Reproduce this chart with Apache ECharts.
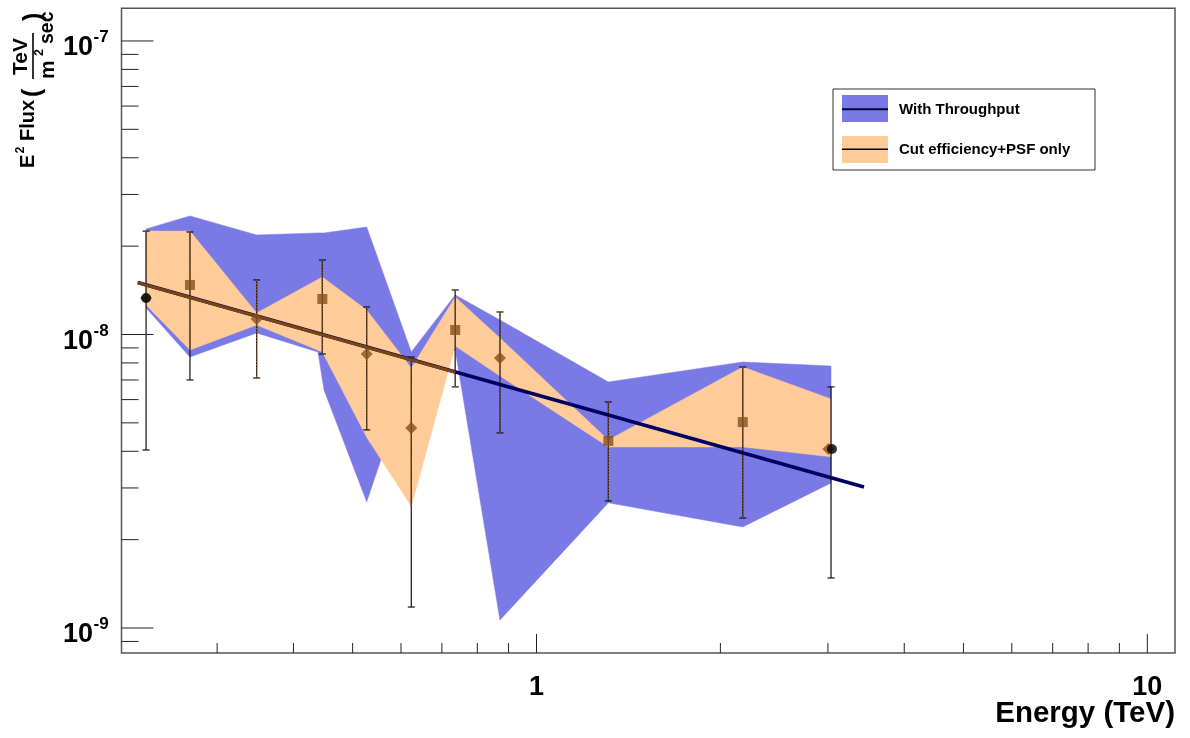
<!DOCTYPE html>
<html><head><meta charset="utf-8">
<script src="https://cdn.jsdelivr.net/npm/echarts@6/dist/echarts.min.js"></script>
<style>html,body{margin:0;padding:0;background:#fff}#c{width:1190px;height:738px}</style>
</head><body><div id="c"></div>
<script>
// ---------------- data ----------------
const pointEnergy = [0.2295, 0.2708, 0.3482, 0.4460, 0.5272, 0.6237, 0.7361, 0.8713, 1.311, 2.176, 3.035];
const cutPsfEnergy = [0.2295, 0.2708, 0.3482, 0.4460, 0.5272, 0.6237, 0.7361, 0.8713, 1.311, 2.176, 3.005];
const cutPsfFlux = [1.331e-8, 1.475e-8, 1.129e-8, 1.321e-8, 8.58e-9, 4.80e-9, 1.036e-8, 8.32e-9, 4.34e-9, 5.03e-9, 4.07e-9];
const cutPsfMarker = ['diamond', 'rect', 'diamond', 'rect', 'diamond', 'diamond', 'rect', 'diamond', 'rect', 'rect', 'diamond'];
const errHigh = [2.25e-8, 2.235e-8, 1.534e-8, 1.794e-8, 1.241e-8, 8.38e-9, 1.418e-8, 1.193e-8, 5.89e-9, 7.75e-9, 6.63e-9];
const throughputErrLow = [4.04e-9, 7.00e-9, 7.11e-9, 8.58e-9, 4.73e-9, 1.179e-9, 6.63e-9, 4.62e-9, 2.71e-9, 2.37e-9, 1.481e-9];
const cutPsfErrLow = [1.331e-8, 8.86e-9, 7.11e-9, 8.58e-9, 4.73e-9, 2.60e-9, 6.63e-9, 4.62e-9, 2.71e-9, 2.37e-9, null];
const throughputPointEnergy = [0.2295, 3.046];
const throughputPointFlux = [1.331e-8, 4.07e-9];

const blueE  = [0.2295, 0.2708, 0.3482, 0.4387, 0.4489, 0.5272, 0.6237, 0.7361, 0.8713, 1.311, 2.176, 3.035];
const blueHi = [2.288e-8, 2.534e-8, 2.183e-8, 2.218e-8, 2.218e-8, 2.324e-8, 8.72e-9, 1.363e-8, 1.121e-8, 6.89e-9, 8.06e-9, 7.81e-9];
const blueLo = [1.231e-8, 8.38e-9, 1.012e-8, 8.72e-9, 6.47e-9, 2.69e-9, 7.57e-9, 8.86e-9, 1.065e-9, 2.67e-9, 2.21e-9, 3.12e-9];

const orangeE  = [0.2295, 0.2708, 0.3482, 0.4460, 0.5272, 0.6237, 0.7361, 0.8713, 1.311, 2.176, 3.035];
const orangeHi = [2.25e-8, 2.25e-8, 1.184e-8, 1.570e-8, 1.212e-8, 7.69e-9, 1.342e-8, 9.73e-9, 4.37e-9, 7.75e-9, 6.03e-9];
const orangeLo = [1.260e-8, 8.86e-9, 1.077e-8, 8.72e-9, 4.47e-9, 2.60e-9, 9.14e-9, 7.22e-9, 4.14e-9, 4.14e-9, 3.83e-9];

const throughputFitE = [0.2224, 3.437];
const throughputFitF = [1.504e-8, 3.022e-9];
const cutPsfFitE = [0.2224, 0.7361];
const cutPsfFitF = [1.500e-8, 7.44e-9];

const xMajorTicks = [1, 10];
const xTickLabels = ['1', '10'];
const xMinorTicks = [0.3, 0.4, 0.5, 0.6, 0.7, 0.8, 0.9, 2, 3, 4, 5, 6, 7, 8, 9];
const yMajorTicks = [1e-9, 1e-8, 1e-7];
const yTickExponents = ['-9', '-8', '-7'];
const yMinorTicks = [9e-10, 2e-9, 3e-9, 4e-9, 5e-9, 6e-9, 7e-9, 8e-9, 9e-9,
                     2e-8, 3e-8, 4e-8, 5e-8, 6e-8, 7e-8, 8e-8, 9e-8];

const X_MIN = 0.2092, X_MAX = 11.10, Y_MIN = 8.22e-10, Y_MAX = 1.292e-7;

// ---------------- styles ----------------
const FONT = 'Liberation Sans, Arial, Helvetica, sans-serif';
const BLUE_FILL = '#7a7ae6';
const ORANGE_FILL = '#ffcb98';
const BROWN = '#85501f';
const NAVY = '#000060';

function bandSeries(name, E, hi, lo, color, z) {
  return {
    type: 'custom', name, z, silent: true,
    data: E.map((e, i) => [e, hi[i]]),
    renderItem(params, api) {
      if (params.dataIndex !== 0) return null;
      const pts = [];
      for (let i = 0; i < E.length; i++) pts.push(api.coord([E[i], hi[i]]));
      for (let i = E.length - 1; i >= 0; i--) pts.push(api.coord([E[i], lo[i]]));
      return { type: 'polygon', shape: { points: pts }, style: { fill: color, stroke: color, lineWidth: 0.5 } };
    }
  };
}

function errSeries(E, hi, lo, color, dashed, caps, z) {
  const rows = [];
  E.forEach((e, i) => { if (lo[i] != null) rows.push([e, hi[i], lo[i]]); });
  return {
    type: 'custom', z, silent: true,
    data: rows,
    renderItem(params, api) {
      const e = api.value(0);
      const a = api.coord([e, api.value(1)]);
      const b = api.coord([e, api.value(2)]);
      const st = { stroke: color, lineWidth: dashed ? 1.3 : 1.2 };
      if (dashed) st.lineDash = [1.5, 1.5];
      const ch = [{ type: 'line', shape: { x1: a[0], y1: a[1], x2: b[0], y2: b[1] }, style: st }];
      if (caps) {
        ch.push({ type: 'line', shape: { x1: a[0] - 3.5, y1: a[1], x2: a[0] + 3.5, y2: a[1] }, style: { stroke: color, lineWidth: 1.2 } });
        ch.push({ type: 'line', shape: { x1: b[0] - 3.5, y1: b[1], x2: b[0] + 3.5, y2: b[1] }, style: { stroke: color, lineWidth: 1.2 } });
      }
      return { type: 'group', children: ch };
    }
  };
}

function tickSeries(values, isX, len, labels, z) {
  return {
    type: 'custom', z, silent: true,
    data: values.map(v => isX ? [v, Y_MIN] : [X_MIN, v]),
    renderItem(params, api) {
      const p = api.coord([api.value(0), api.value(1)]);
      const ch = [];
      if (isX) {
        ch.push({ type: 'line', shape: { x1: p[0], y1: p[1], x2: p[0], y2: p[1] - len }, style: { stroke: '#222', lineWidth: 1 } });
        if (labels) ch.push({ type: 'text', x: p[0], y: p[1] + 35,
          style: { text: labels[params.dataIndex], font: 'bold 27px ' + FONT, fill: '#000', align: 'center', verticalAlign: 'middle', textAlign: 'center', textVerticalAlign: 'middle' } });
      } else {
        ch.push({ type: 'line', shape: { x1: p[0], y1: p[1], x2: p[0] + len, y2: p[1] }, style: { stroke: '#222', lineWidth: 1 } });
        if (labels) {
          ch.push({ type: 'text', x: p[0] - 28.5, y: p[1] + 7,
            style: { text: '10', font: 'bold 27px ' + FONT, fill: '#000', align: 'right', verticalAlign: 'middle', textAlign: 'right', textVerticalAlign: 'middle' } });
          ch.push({ type: 'text', x: p[0] - 28, y: p[1] - 3.5,
            style: { text: labels[params.dataIndex], font: 'bold 17px ' + FONT, fill: '#000', align: 'left', verticalAlign: 'middle', textAlign: 'left', textVerticalAlign: 'middle' } });
        }
      }
      return { type: 'group', children: ch };
    }
  };
}

const chart = echarts.init(document.getElementById('c'), null, { renderer: 'canvas' });

const txt = (t, x, y, size, align, extra) => Object.assign({
  type: 'text', x, y,
  style: { text: t, font: 'bold ' + size + 'px ' + FONT, fill: '#000',
           textAlign: align || 'left', textVerticalAlign: 'middle', align: align || 'left', verticalAlign: 'middle' }
}, extra || {});

const option = {
  animation: false,
  backgroundColor: '#fff',
  grid: { left: 121.5, right: 15, top: 8.3, bottom: 85, show: true, borderColor: '#555', borderWidth: 1.5, backgroundColor: 'transparent' },
  xAxis: { type: 'log', logBase: 10, min: X_MIN, max: X_MAX,
    axisLine: { show: false }, axisTick: { show: false }, axisLabel: { show: false }, splitLine: { show: false } },
  yAxis: { type: 'log', logBase: 10, min: Y_MIN, max: Y_MAX,
    axisLine: { show: false }, axisTick: { show: false }, axisLabel: { show: false }, splitLine: { show: false } },
  series: [
    bandSeries('With Throughput', blueE, blueHi, blueLo, BLUE_FILL, 1),
    bandSeries('Cut efficiency+PSF only', orangeE, orangeHi, orangeLo, ORANGE_FILL, 2),
    errSeries(pointEnergy, errHigh, throughputErrLow, '#111', false, true, 3),
    errSeries(pointEnergy, errHigh, cutPsfErrLow, BROWN, true, false, 4),
    { type: 'line', z: 5, silent: true, showSymbol: false, symbol: 'none',
      data: throughputFitE.map((e, i) => [e, throughputFitF[i]]),
      lineStyle: { color: NAVY, width: 3.5 } },
    { type: 'line', z: 6, silent: true, showSymbol: false, symbol: 'none',
      data: cutPsfFitE.map((e, i) => [e, cutPsfFitF[i]]),
      lineStyle: { color: '#7a4512', width: 3 } },
    { type: 'scatter', z: 7, silent: true,
      data: cutPsfFlux.map((f, i) => ({ value: [cutPsfEnergy[i], f], symbol: cutPsfMarker[i], symbolSize: cutPsfMarker[i] === 'rect' ? 10 : 12 })),
      itemStyle: { color: BROWN } },
    { type: 'scatter', z: 8, silent: true, symbol: 'circle', symbolSize: 10,
      data: throughputPointFlux.map((f, i) => [throughputPointEnergy[i], f]),
      itemStyle: { color: '#000' } },
    tickSeries(xMajorTicks, true, 19, xTickLabels, 9),
    tickSeries(xMinorTicks, true, 10, null, 9),
    tickSeries(yMajorTicks, false, 32, yTickExponents, 9),
    tickSeries(yMinorTicks, false, 17, null, 9)
  ],
  graphic: [
    // x axis title
    txt('Energy (TeV)', 1175, 714, 29.5, 'right'),
    // y axis title (rotated)
    { type: 'group', x: 30, y: 168, rotation: Math.PI / 2, children: [
      txt('E', 0, -1.7, 20, 'left'),
      txt('2', 14.5, -9, 12.5, 'left'),
      txt('Flux', 27, -1.7, 20, 'left'),
      txt('(', 71, 3, 25, 'left'),
      txt('TeV', 93, -8.5, 21, 'left'),
      { type: 'line', shape: { x1: 89, y1: 3, x2: 135, y2: 3 }, style: { stroke: '#000', lineWidth: 1.6 } },
      txt('m', 89, 17.8, 21, 'left'),
      txt('2', 112, 10, 12.5, 'left'),
      txt('sec', 124, 17.8, 19.5, 'left'),
      txt(')', 147, 4, 25, 'left')
    ] },
    // legend
    { type: 'rect', shape: { x: 833, y: 89, width: 262, height: 81 }, style: { fill: '#fff', stroke: '#333', lineWidth: 1 }, z: 100 },
    { type: 'rect', shape: { x: 842, y: 95, width: 46, height: 27 }, style: { fill: BLUE_FILL }, z: 101 },
    { type: 'line', shape: { x1: 842, y1: 109.3, x2: 888, y2: 109.3 }, style: { stroke: '#000040', lineWidth: 2 }, z: 102 },
    { type: 'rect', shape: { x: 842, y: 136, width: 46, height: 27 }, style: { fill: ORANGE_FILL }, z: 101 },
    { type: 'line', shape: { x1: 842, y1: 149.3, x2: 888, y2: 149.3 }, style: { stroke: '#000', lineWidth: 1.5 }, z: 102 },
    txt('With Throughput', 899, 109.5, 15, 'left', { z: 103 }),
    txt('Cut efficiency+PSF only', 899, 149.5, 15, 'left', { z: 103 })
  ]
};
chart.setOption(option);
</script></body></html>
